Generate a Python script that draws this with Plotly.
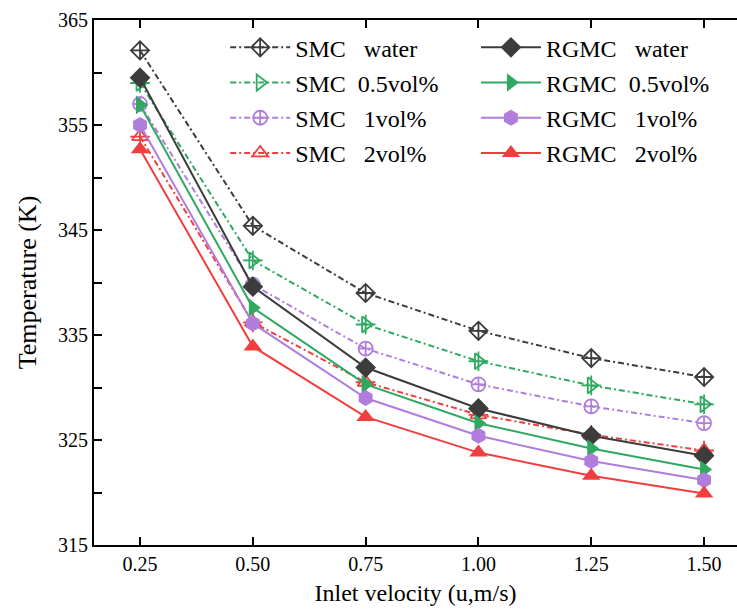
import plotly.graph_objects as go

velocity = [0.25, 0.50, 0.75, 1.00, 1.25, 1.50]
x_ticktext = ["0.25", "0.50", "0.75", "1.00", "1.25", "1.50"]

smc_water = [362.1, 345.4, 339.0, 335.4, 332.8, 331.0]
smc_05 = [359.0, 342.1, 336.0, 332.5, 330.2, 328.4]
smc_1 = [357.0, 339.8, 333.7, 330.3, 328.2, 326.6]
smc_2 = [353.9, 336.2, 330.5, 327.4, 325.5, 324.0]

rgmc_water = [359.5, 339.6, 331.9, 328.0, 325.4, 323.5]
rgmc_05 = [356.9, 337.6, 330.3, 326.6, 324.2, 322.2]
rgmc_1 = [355.0, 336.1, 329.0, 325.4, 323.0, 321.2]
rgmc_2 = [352.7, 333.9, 327.2, 323.8, 321.6, 319.9]

names_smc = ["SMC   water", "SMC  0.5vol%", "SMC   1vol%", "SMC   2vol%"]
names_rgmc = ["RGMC   water", "RGMC  0.5vol%", "RGMC   1vol%", "RGMC   2vol%"]

BLACK = "#3c3c3c"
GREEN = "#2fa862"
PURPLE = "#b07ddc"
RED = "#f03e3e"
colors = [BLACK, GREEN, PURPLE, RED]

smc_series = [smc_water, smc_05, smc_1, smc_2]
rgmc_series = [rgmc_water, rgmc_05, rgmc_1, rgmc_2]
smc_symbols = ["diamond-cross-open", "triangle-right-open", "circle-cross-open", "triangle-up-open"]
rgmc_symbols = ["diamond", "triangle-right", "hexagon", "triangle-up"]

FONT = "'Liberation Serif', 'Times New Roman', serif"

fig = go.Figure()

for i, (name, ys, c, s) in enumerate(zip(names_smc, smc_series, colors, smc_symbols)):
    fig.add_trace(go.Scatter(
        x=velocity, y=ys, name=name, mode="lines+markers", legend="legend",
        legendgroup="smc%d" % i,
        line=dict(color=c, width=2, dash="6px,3px,2px,3px"),
        marker=dict(symbol=s, size=14, color=c, line=dict(color=c, width=1.8)),
    ))

# crosses inside the open triangles of the SMC series
for ys, c in [(smc_05, GREEN), (smc_2, RED)]:
    fig.add_trace(go.Scatter(
        x=velocity, y=ys, mode="markers", showlegend=False, hoverinfo="skip",
        marker=dict(symbol="cross-thin-open", size=14, color=c, line=dict(color=c, width=1.8)),
    ))

for i, (name, ys, c, s) in enumerate(zip(names_rgmc, rgmc_series, colors, rgmc_symbols)):
    fig.add_trace(go.Scatter(
        x=velocity, y=ys, name=name, mode="lines+markers", legend="legend2",
        legendgroup="rgmc%d" % i,
        line=dict(color=c, width=2),
        marker=dict(symbol=s, size=16, color=c, line=dict(width=0)),
    ))

legend_common = dict(
    font=dict(family=FONT, size=24, color="black"),
    bgcolor="rgba(0,0,0,0)", borderwidth=0,
    yanchor="top", y=0.99, xanchor="left",
    itemwidth=60, tracegroupgap=1,
)

fig.update_layout(
    width=737, height=610,
    margin=dict(l=94, r=0, t=20, b=65),
    paper_bgcolor="white", plot_bgcolor="white",
    font=dict(family=FONT, color="black"),
    legend=dict(x=0.204, **legend_common),
    legend2=dict(x=0.594, **legend_common),
    xaxis=dict(
        range=[0.148, 1.573], automargin=False,
        tickvals=velocity, ticktext=x_ticktext,
        ticks="inside", ticklen=8, tickwidth=2, tickcolor="black",
        showline=True, linewidth=2, linecolor="black", mirror="ticks",
        showgrid=False, zeroline=False,
        tickfont=dict(family=FONT, size=20, color="black"),
        title=dict(text="Inlet velocity (u,m/s)", font=dict(family=FONT, size=24, color="black"), standoff=10),
    ),
    yaxis=dict(
        range=[315, 365], tick0=315, dtick=10, automargin=False,
        ticks="inside", ticklen=8, tickwidth=2, tickcolor="black",
        minor=dict(dtick=5, tick0=315, ticks="inside", ticklen=8, tickwidth=2, tickcolor="black", showgrid=False),
        showline=True, linewidth=2, linecolor="black", mirror=False,
        showgrid=False, zeroline=False,
        tickfont=dict(family=FONT, size=20, color="black"),
        title=dict(text="Temperature (K)", font=dict(family=FONT, size=26, color="black"), standoff=14),
    ),
)

fig.write_html(
    "out.html",
    config={"displayModeBar": False},
    post_script="document.body.style.margin='0';document.body.style.overflow='hidden';",
)
